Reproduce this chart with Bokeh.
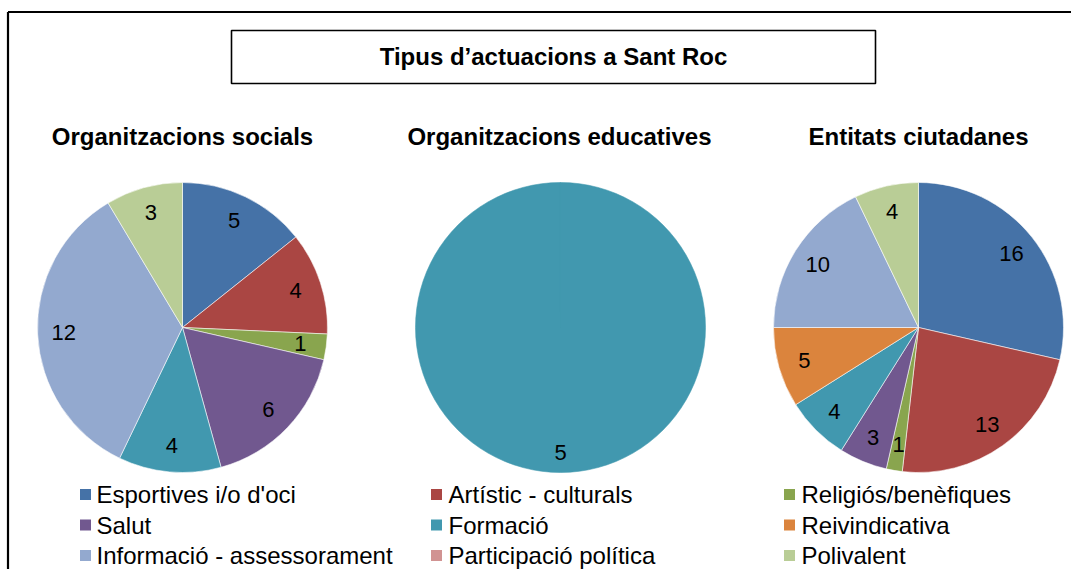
import math
from bokeh.plotting import figure
from bokeh.models import Range1d, ColumnDataSource
from bokeh.embed import file_html
from bokeh.resources import INLINE
from bokeh.core.properties import value

# ---------------- data ----------------
title = "Tipus d\u2019actuacions a Sant Roc"
categories = ["Esportives i/o d'oci", "Artístic - culturals", "Religiós/benèfiques",
              "Salut", "Formació", "Reivindicativa",
              "Informació - assessorament", "Participació política", "Polivalent"]
colors = ["#4572A7", "#AA4643", "#89A54E",
          "#71588F", "#4198AF", "#DB843D",
          "#93A9CF", "#D19392", "#B9CD96"]
pie_titles = ["Organitzacions socials", "Organitzacions educatives", "Entitats ciutadanes"]
socials = [5, 4, 1, 6, 4, 0, 12, 0, 3]
educatives = [0, 0, 0, 0, 5, 0, 0, 0, 0]
ciutadanes = [16, 13, 1, 3, 4, 5, 10, 0, 4]
series = [socials, educatives, ciutadanes]

# ---------------- layout ----------------
W, H = 1071, 569
FONT = value("Liberation Sans")


def px(X):
    return X


def py(Y):
    return H - Y


p = figure(width=W, height=H, output_backend="svg", toolbar_location=None,
           x_axis_type=None, y_axis_type=None,
           x_range=Range1d(0, W), y_range=Range1d(0, H),
           min_border=0, outline_line_color=None)
p.background_fill_color = "white"
p.border_fill_color = "white"

# outer chart border (top + left visible)
p.line(x=[px(7.5), W], y=[py(11.5), py(11.5)], line_color="black", line_width=2.2)
p.line(x=[px(7.5), px(7.5)], y=[py(11.5), 0], line_color="black", line_width=2.2)

# title box
p.quad(left=px(231), right=px(875), top=py(30), bottom=py(83),
       fill_color="white", line_color="black", line_width=1.6)
p.text(x=[px(553)], y=[py(56)], text=[title], text_align="center",
       text_baseline="middle", text_font=FONT, text_font_style="bold",
       text_font_size=value("24px"), text_color="black")

centers = [(182, 327), (560, 327), (918, 327)]
R = 145
title_x = [182, 559, 918]

for vals, (cxi, cyi), ttl, tx in zip(series, centers, pie_titles, title_x):
    cx, cy = px(cxi), py(cyi)
    total = float(sum(vals))
    starts, ends, cols, lcols, lx, ly, lt = [], [], [], [], [], [], []
    cum = 0.0
    nz = [v for v in vals if v > 0]
    for v, c in zip(vals, colors):
        if v <= 0:
            continue
        a0 = math.pi / 2 - 2 * math.pi * cum / total
        a1 = math.pi / 2 - 2 * math.pi * (cum + v) / total
        if len(nz) == 1:
            a1 = a0 - 2 * math.pi + 1e-4
        starts.append(a0)
        ends.append(a1)
        cols.append(c)
        lcols.append(c if len(nz) == 1 else "white")
        mid = (cum + v / 2.0) / total * 2 * math.pi
        d = 0.86 * R if len(nz) == 1 else 0.82 * R
        lx.append(cx + d * math.sin(mid))
        ly.append(cy + d * math.cos(mid))
        lt.append(str(v))
        cum += v
    src = ColumnDataSource(dict(start=starts, end=ends, color=cols, lcolor=lcols))
    p.wedge(x=cx, y=cy, radius=R, start_angle="start", end_angle="end",
            direction="clock", fill_color="color", line_color="lcolor",
            line_width=0.8, line_alpha=0.7, source=src)
    p.text(x=lx, y=ly, text=lt, text_align="center", text_baseline="middle",
           text_font=FONT, text_font_size=value("22px"), text_color="black")
    p.text(x=[px(tx)], y=[py(136)], text=[ttl], text_align="center",
           text_baseline="middle", text_font=FONT, text_font_style="bold",
           text_font_size=value("24px"), text_color="black")

# legend (3 columns, row-major)
col_sq = [85, 436, 789]
col_tx = [96, 448, 801]
row_y = [494, 524.5, 555]
sx, sy, tx_, ty_, lc, ltxt = [], [], [], [], [], []
for i, (cat, c) in enumerate(zip(categories, colors)):
    r, k = divmod(i, 3)
    sx.append(px(col_sq[k]))
    sy.append(py(row_y[r]))
    tx_.append(px(col_tx[k]))
    ty_.append(py(row_y[r]))
    lc.append(c)
    ltxt.append(cat)
p.rect(x=sx, y=sy, width=11, height=11, fill_color=lc, line_color=None)
p.text(x=tx_, y=ty_, text=ltxt, text_align="left", text_baseline="middle",
       text_font=FONT, text_font_size=value("24px"), text_color="black")

open("out.html", "w").write(file_html(p, INLINE))
